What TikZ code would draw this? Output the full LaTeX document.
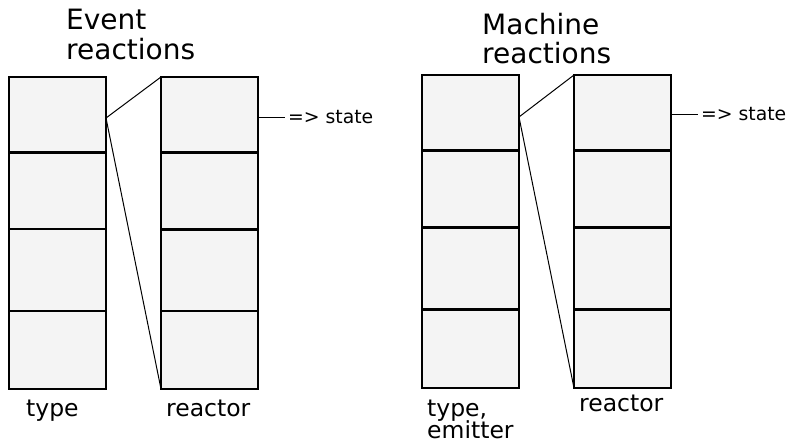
\documentclass[tikz,border=0pt]{standalone}
\usepackage{fontspec}
\setmainfont{DejaVu Sans}
\definecolor{cellfill}{HTML}{F4F4F4}
\tikzset{
  cell/.style={draw=black, fill=cellfill, line width=2.4pt, rectangle, inner sep=0pt, outer sep=0pt, minimum width=97pt, anchor=north west},
  conn/.style={draw=black, line width=1pt},
  ttl/.style={font=\fontsize{28}{30}\selectfont, anchor=base west, inner sep=0pt},
  lbl/.style={font=\fontsize{23.5}{24}\selectfont, anchor=base west, inner sep=0pt},
  st/.style={font=\fontsize{18.8}{20}\selectfont, anchor=west, inner sep=0pt},
}
\begin{document}
\begin{tikzpicture}[x=1pt, y=-1pt]
\useasboundingbox (0,0) rectangle (788,443);
% ---- left panel
\node[ttl] (t1a) at (66,30) {Event};
\node[ttl] (t1b) at (66,59.5) {reactions};
\node[cell, minimum height=75.7pt] (a1) at (9,77) {};
\node[cell, minimum height=76.6pt] (a2) at (9,152.7) {};
\node[cell, minimum height=81.7pt] (a3) at (9,229.3) {};
\node[cell, minimum height=78pt] (a4) at (9,311) {};
\node[cell, minimum height=75.7pt] (b1) at (161,77) {};
\node[cell, minimum height=77pt] (b2) at (161,152.7) {};
\node[cell, minimum height=81.6pt] (b3) at (161,229.7) {};
\node[cell, minimum height=77.7pt] (b4) at (161,311.3) {};
\coordinate (pa) at (106,118);
\draw[conn] (pa) -- (b1.north west);
\draw[conn] (pa) -- (b4.south west);
\coordinate (qa) at (257,117);
\node[st] (sa) at (288,117) {=> state};
\draw[conn, line width=0.8pt] (qa) -- ([xshift=-3pt]sa.west);
\node[lbl] (la) at (26,416.5) {type};
\node[lbl] (lb) at (166,416.5) {reactor};
% ---- right panel
\node[ttl] (t2a) at (482,34.3) {Machine};
\node[ttl] (t2b) at (482,63.3) {reactions};
\node[cell, minimum height=75.7pt] (c1) at (422,75) {};
\node[cell, minimum height=77pt] (c2) at (422,150.7) {};
\node[cell, minimum height=82pt] (c3) at (422,227.7) {};
\node[cell, minimum height=78.3pt] (c4) at (422,309.7) {};
\node[cell, minimum height=75.7pt] (d1) at (574,75) {};
\node[cell, minimum height=77pt] (d2) at (574,150.7) {};
\node[cell, minimum height=82pt] (d3) at (574,227.7) {};
\node[cell, minimum height=78.3pt] (d4) at (574,309.7) {};
\coordinate (pc) at (519,117);
\draw[conn] (pc) -- (d1.north west);
\draw[conn] (pc) -- (d4.south west);
\coordinate (qc) at (671,114.3);
\node[st] (sc) at (701,114.3) {=> state};
\draw[conn, line width=0.8pt] (qc) -- ([xshift=-3pt]sc.west);
\node[lbl] (lc) at (427,416.7) {type,};
\node[lbl] (ld) at (427,438.7) {emitter};
\node[lbl] (le) at (579,411.7) {reactor};
\end{tikzpicture}
\end{document}
